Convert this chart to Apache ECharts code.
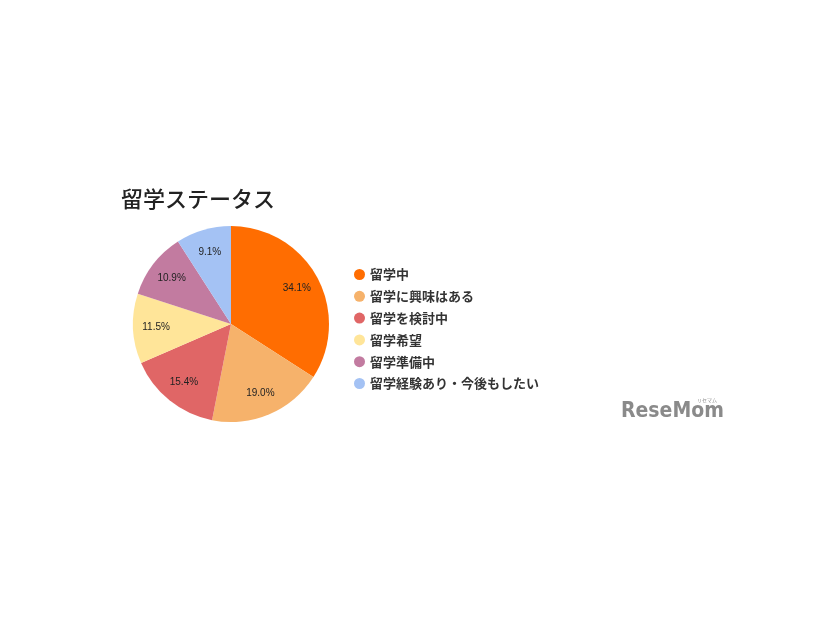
<!DOCTYPE html>
<html><head><meta charset="utf-8">
<script src="https://cdn.jsdelivr.net/npm/echarts@6/dist/echarts.min.js"></script>
<style>html,body{margin:0;padding:0;background:#fff}#c{width:826px;height:620px}</style>
</head><body><div id="c"></div>
<script>
const categories = ['留学中','留学に興味はある','留学を検討中','留学希望','留学準備中','留学経験あり・今後もしたい'];
const values = [34.1, 19.0, 15.4, 11.5, 10.9, 9.1];
const colors = ['#FF6D01','#F6B26B','#E06666','#FFE599','#C27BA0','#A4C2F4'];
const titleText = '留学ステータス';

const data = categories.map((n,i)=>({name:n, value:values[i], itemStyle:{color:colors[i]}}));
const chart = echarts.init(document.getElementById('c'));
chart.setOption({
  animation:false,
  backgroundColor:'#fff',
  title:{text:titleText, left:116, top:183, textStyle:{fontFamily:'Noto Sans CJK JP', fontSize:22, fontWeight:500, color:'#222'}},
  legend:{
    data:categories, orient:'vertical', left:349, top:263,
    icon:'circle', itemWidth:11, itemHeight:11, itemGap:8.8,
    textStyle:{fontFamily:'Noto Sans CJK JP', fontSize:13, fontWeight:'bold', color:'#333'}
  },
  series:[
    {type:'pie', center:[231,324], radius:[0,98], startAngle:90, clockwise:true,
     data:data, label:{show:false}, labelLine:{show:false}, silent:true,
     itemStyle:{borderWidth:0}},
    {type:'pie', center:[231,324], radius:[46,98], startAngle:90, clockwise:true,
     data:categories.map((n,i)=>({name:n, value:values[i], itemStyle:{color:'rgba(0,0,0,0)'}})),
     silent:true, legendHoverLink:false,
     label:{show:true, position:'inside', formatter:p=>p.value.toFixed(1)+'%',
       fontFamily:'Liberation Sans, Arial', fontSize:10, color:'#222'},
     labelLine:{show:false}}
  ],
  graphic:[{type:'text', left:621, top:401, style:{text:'ReseMom', fontFamily:'DejaVu Sans Condensed', fontWeight:'bold', fontSize:21, fill:'#8a8a8a'}},
           {type:'text', left:697, top:398, style:{text:'リセマム', fontFamily:'Noto Sans CJK JP', fontSize:5, fill:'#8a8a8a'}}]
});
</script></body></html>
